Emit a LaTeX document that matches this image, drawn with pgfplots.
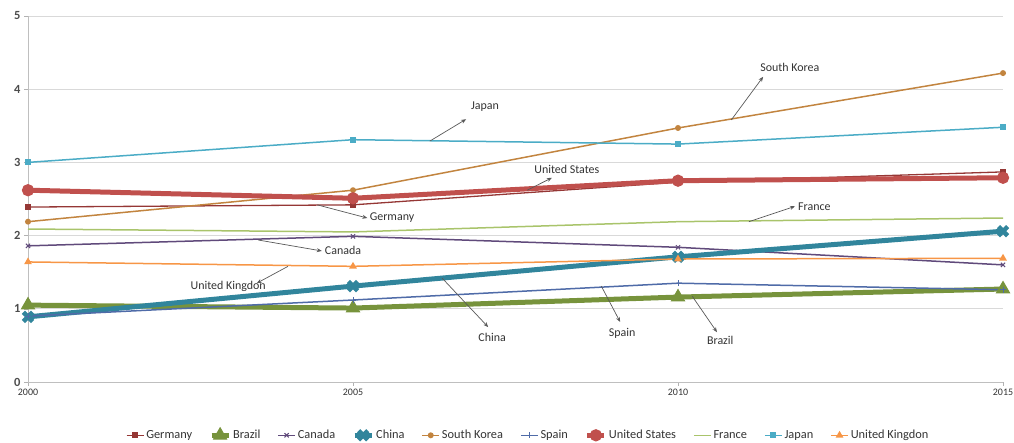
\documentclass[border=0pt]{standalone}
\usepackage{fontspec}
\setmainfont{Carlito}
\usepackage{pgfplots}
\pgfplotsset{compat=1.18}
\usetikzlibrary{arrows.meta}
\definecolor{cGer}{HTML}{953735}
\definecolor{cBra}{HTML}{77933C}
\definecolor{cCan}{HTML}{604A7B}
\definecolor{cChi}{HTML}{31859C}
\definecolor{cKor}{HTML}{C2843F}
\definecolor{cSpa}{HTML}{4F6BA8}
\definecolor{cUSA}{HTML}{C0504D}
\definecolor{cFra}{HTML}{A9C46B}
\definecolor{cJap}{HTML}{4BACC6}
\definecolor{cUK}{HTML}{F79646}
\begin{document}
\begin{tikzpicture}[x=1bp,y=1bp]
\path[use as bounding box] (-28,-61) rectangle (986,382);
\begin{axis}[at={(0,0)}, anchor=south west, scale only axis,
  width=975bp, height=366bp,
  xmin=2000, xmax=2015, ymin=0, ymax=5,
  xtick={2000,2005,2010,2015}, ytick={0,1,2,3,4,5},
  /pgf/number format/1000 sep={},
  /pgf/number format/assume math mode=true,
  xticklabel style={font=\fontsize{10}{11}\selectfont, text=black!80},
  yticklabel style={font=\bfseries\fontsize{12.5}{13}\selectfont, text=black!70},
  axis x line*=bottom, axis y line*=left,
  axis line style={draw=black!25, line width=0.8bp},
  ymajorgrids, grid style={draw=black!15, line width=0.8bp},
  tick style={draw=black!30}, tick align=outside, major tick length=4bp,
  clip=false,
  legend style={at={(0.513,-0.145)}, anchor=center, draw=none, fill=none,
    legend columns=10, font=\fontsize{12.4}{13}\selectfont, text=black!80,
    /tikz/every even column/.append style={column sep=15bp}},
  legend cell align=left,
]
\addplot[cGer, line width=1.3bp, mark=square*, mark size=2.2bp] coordinates {(2000,2.39) (2005,2.42) (2010,2.73) (2015,2.87)};
\addlegendentry{Germany}
\addplot[cBra, line width=5bp, mark=triangle*, mark size=7.5bp, mark options={line width=1bp}] coordinates {(2000,1.05) (2005,1.01) (2010,1.16) (2015,1.27)};
\addlegendentry{Brazil}
\addplot[cCan, line width=1.5bp, mark=x, mark size=3bp, mark options={line width=1bp}] coordinates {(2000,1.86) (2005,1.99) (2010,1.84) (2015,1.60)};
\addlegendentry{Canada}
\addplot[cChi, line width=5bp, mark=x, mark size=6.5bp, mark options={line width=4.5bp}] coordinates {(2000,0.89) (2005,1.31) (2010,1.71) (2015,2.06)};
\addlegendentry{China}
\addplot[cKor, line width=1.5bp, mark=*, mark size=2.2bp] coordinates {(2000,2.19) (2005,2.62) (2010,3.47) (2015,4.22)};
\addlegendentry{South Korea}
\addplot[cSpa, line width=1.5bp, mark=+, mark size=3bp, mark options={line width=0.8bp}] coordinates {(2000,0.90) (2005,1.12) (2010,1.35) (2015,1.26)};
\addlegendentry{Spain}
\addplot[cUSA, line width=5bp, mark=*, mark size=3.5bp] coordinates {(2000,2.62) (2005,2.51) (2010,2.75) (2015,2.79)};
\addlegendentry{United States}
\addplot[cFra, line width=1.5bp, mark=none] coordinates {(2000,2.09) (2005,2.05) (2010,2.19) (2015,2.24)};
\addlegendentry{France}
\addplot[cJap, line width=1.5bp, mark=square*, mark size=2.3bp] coordinates {(2000,3.00) (2005,3.31) (2010,3.25) (2015,3.48)};
\addlegendentry{Japan}
\addplot[cUK, line width=1.5bp, mark=triangle*, mark size=3bp] coordinates {(2000,1.64) (2005,1.58) (2010,1.68) (2015,1.69)};
\addlegendentry{United Kingdon}
% annotations
\begin{scope}[every node/.style={font=\fontsize{12}{13}\selectfont, text=black!80}]
\draw[black!65, line width=0.7bp, -{Stealth[length=5bp,width=4bp]}] (axis cs:2006.18,3.29) -- (axis cs:2006.74,3.59);
\node at (axis cs:2007.03,3.76) {Japan};
\draw[black!65, line width=0.7bp, -{Stealth[length=5bp,width=4bp]}] (axis cs:2010.82,3.58) -- (axis cs:2011.31,4.17);
\node at (axis cs:2011.72,4.30) {South Korea};
\draw[black!65, line width=0.7bp, -{Stealth[length=5bp,width=4bp]}] (axis cs:2007.68,2.62) -- (axis cs:2008.06,2.79);
\node at (axis cs:2008.29,2.90) {United States};
\draw[black!65, line width=0.7bp, -{Stealth[length=5bp,width=4bp]}] (axis cs:2011.09,2.19) -- (axis cs:2011.80,2.40);
\node[anchor=west, inner sep=1bp] at (axis cs:2011.83,2.40) {France};
\draw[black!65, line width=0.7bp, -{Stealth[length=5bp,width=4bp]}] (axis cs:2003.54,1.94) -- (axis cs:2004.52,1.79);
\node[anchor=west, inner sep=1bp] at (axis cs:2004.55,1.80) {Canada};
\draw[black!65, line width=0.7bp, -{Stealth[length=5bp,width=4bp]}] (axis cs:2004.0,1.58) -- (axis cs:2003.52,1.35);
\node at (axis cs:2003.08,1.30) {United Kingdon};
\draw[black!65, line width=0.7bp, -{Stealth[length=5bp,width=4bp]}] (axis cs:2004.45,2.42) -- (axis cs:2005.22,2.24);
\node[anchor=west, inner sep=1bp] at (axis cs:2005.24,2.24) {Germany};
\draw[black!65, line width=0.7bp, -{Stealth[length=5bp,width=4bp]}] (axis cs:2006.37,1.42) -- (axis cs:2007.08,0.75);
\node at (axis cs:2007.14,0.61) {China};
\draw[black!65, line width=0.7bp, -{Stealth[length=5bp,width=4bp]}] (axis cs:2008.82,1.31) -- (axis cs:2009.11,0.82);
\node at (axis cs:2009.14,0.67) {Spain};
\draw[black!65, line width=0.7bp, -{Stealth[length=5bp,width=4bp]}] (axis cs:2010.22,1.17) -- (axis cs:2010.60,0.68);
\node at (axis cs:2010.65,0.57) {Brazil};
\end{scope}
\end{axis}
\end{tikzpicture}
\end{document}
